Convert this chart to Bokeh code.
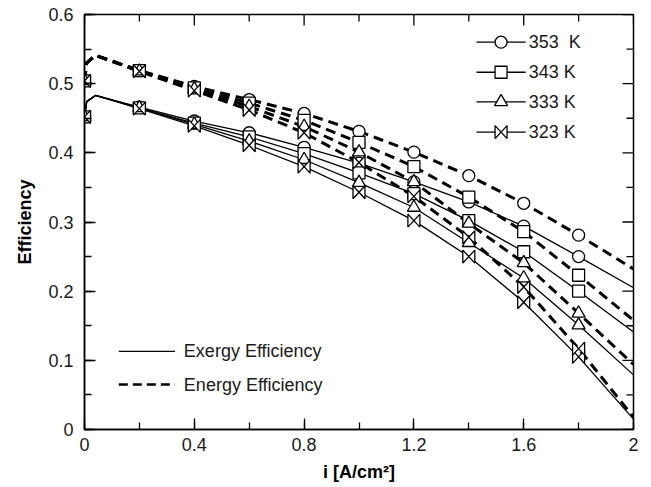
from bokeh.plotting import figure
from bokeh.models import Range1d, FixedTicker, CustomJSTickFormatter
from bokeh.core.properties import value
from bokeh.embed import file_html
from bokeh.resources import INLINE

# ---- data ---------------------------------------------------------------
current = [0.0, 0.2, 0.4, 0.6, 0.8, 1.0, 1.2, 1.4, 1.6, 1.8]   # A/cm2, marker points
rise_x = [0.008, 0.04]          # start-up rise just after i = 0
end_x = 2.0                     # curves continue to the edge of the range

temps = ["353", "343", "333", "323"]
legend_labels = ["353\u00a0\u00a0K", "343 K", "333 K", "323 K"]

exergy_353 = [0.452, 0.466, 0.446, 0.429, 0.408, 0.385, 0.358, 0.329, 0.294, 0.250]
exergy_343 = [0.452, 0.465, 0.443, 0.423, 0.399, 0.371, 0.341, 0.302, 0.257, 0.200]
exergy_333 = [0.452, 0.465, 0.441, 0.417, 0.390, 0.357, 0.321, 0.270, 0.219, 0.151]
exergy_323 = [0.452, 0.464, 0.439, 0.411, 0.380, 0.343, 0.302, 0.250, 0.184, 0.105]
exergy_rise = [0.474, 0.483]
exergy_end = [0.205, 0.141, 0.079, 0.015]

energy_353 = [0.504, 0.519, 0.496, 0.477, 0.457, 0.431, 0.401, 0.367, 0.327, 0.281]
energy_343 = [0.504, 0.519, 0.494, 0.472, 0.447, 0.415, 0.380, 0.336, 0.286, 0.223]
energy_333 = [0.504, 0.518, 0.492, 0.467, 0.438, 0.401, 0.358, 0.298, 0.241, 0.168]
energy_323 = [0.504, 0.518, 0.490, 0.462, 0.429, 0.386, 0.337, 0.278, 0.206, 0.117]
energy_rise = [0.530, 0.541]
energy_end = [0.232, 0.158, 0.094, 0.018]

x_major = [0.0, 0.4, 0.8, 1.2, 1.6, 2.0]
x_minor = [0.0, 0.2, 0.4, 0.6, 0.8, 1.0, 1.2, 1.4, 1.6, 1.8, 2.0]
y_major = [0.0, 0.1, 0.2, 0.3, 0.4, 0.5, 0.6]
y_minor = [0.0, 0.05, 0.1, 0.15, 0.2, 0.25, 0.3, 0.35, 0.4, 0.45, 0.5, 0.55, 0.6]

exergy = [exergy_353, exergy_343, exergy_333, exergy_323]
energy = [energy_353, energy_343, energy_333, energy_323]
markers = ["circle", "square", "triangle", "bowtie"]

# ---- layout -------------------------------------------------------------
W, H = 651, 487
BL, BR, BT, BB = 84, 18, 14, 58
FRAME_W, FRAME_H = W - BL - BR, H - BT - BB
X0, X1, Y0, Y1 = 0.0, 2.0, 0.0, 0.6
PX_X = (X1 - X0) / FRAME_W      # data units per pixel
PX_Y = (Y1 - Y0) / FRAME_H
TICK_MAJ, TICK_MIN = 11, 7      # inward tick lengths, px

FONT = "Liberation Sans"
TXT = "#1a1a1a"

p = figure(width=W, height=H, x_range=Range1d(X0, X1), y_range=Range1d(Y0, Y1),
           output_backend="svg", toolbar_location=None,
           min_border_left=BL, min_border_right=BR,
           min_border_top=BT, min_border_bottom=BB)
p.grid.visible = False
p.outline_line_color = "black"
p.outline_line_width = 1.5
p.background_fill_color = "white"
p.border_fill_color = "white"

fmt = CustomJSTickFormatter(code="return (Math.round(tick * 10) / 10).toString();")

for ax, ticker, standoff in ((p.xaxis[0], FixedTicker(ticks=x_major, minor_ticks=x_minor), 8),
                             (p.yaxis[0], FixedTicker(ticks=y_major, minor_ticks=y_minor), 11)):
    ax.ticker = ticker
    ax.formatter = fmt
    ax.axis_line_color = "black"
    ax.axis_line_width = 1.5
    ax.major_tick_line_color = "black"
    ax.minor_tick_line_color = "black"
    ax.major_tick_line_width = 1.3
    ax.minor_tick_line_width = 1.3
    ax.major_tick_in = TICK_MAJ
    ax.major_tick_out = 0
    ax.minor_tick_in = TICK_MIN
    ax.minor_tick_out = 0
    ax.major_label_text_font = FONT
    ax.major_label_text_color = TXT
    ax.major_label_text_font_size = "18px"
    ax.major_label_standoff = standoff
    ax.axis_label_text_font = FONT
    ax.axis_label_text_font_size = "18px"
    ax.axis_label_text_font_style = "bold"
    ax.axis_label_text_color = "black"

p.xaxis[0].axis_label = "i [A/cm²]"
p.xaxis[0].axis_label_standoff = 8
p.yaxis[0].axis_label = "Efficiency"
p.yaxis[0].axis_label_standoff = 10

# inward ticks along the top and right edges of the frame
top_x, top_y0, top_y1 = [], [], []
for t in x_minor:
    ln = TICK_MAJ if t in x_major else TICK_MIN
    top_x.append(t)
    top_y0.append(Y1)
    top_y1.append(Y1 - ln * PX_Y)
p.segment(top_x, top_y0, top_x, top_y1, line_color="black", line_width=1.3)

rt_y, rt_x0, rt_x1 = [], [], []
for t in y_minor:
    ln = TICK_MAJ if t in y_major else TICK_MIN
    rt_y.append(t)
    rt_x0.append(X1)
    rt_x1.append(X1 - ln * PX_X)
p.segment(rt_x0, rt_y, rt_x1, rt_y, line_color="black", line_width=1.3)

# ---- curves -------------------------------------------------------------
line_x = [current[0]] + rise_x + current[1:] + [end_x]
for k in range(4):
    ys = [exergy[k][0]] + exergy_rise + exergy[k][1:] + [exergy_end[k]]
    p.line(line_x, ys, line_color="black", line_width=1.3)
for k in range(4):
    ys = [energy[k][0]] + energy_rise + energy[k][1:] + [energy_end[k]]
    p.line(line_x, ys, line_color="black", line_width=3, line_dash="10 6")

MSIZE = 12
HW, HH = 6.0, 6.5   # bowtie half width / height in pixels


def bowtie_shapes(xs, ys):
    px, py = [], []
    for x, y in zip(xs, ys):
        dx, dy = HW * PX_X, HH * PX_Y
        px.append([x - dx, x + dx, x + dx, x - dx])
        py.append([y + dy, y - dy, y + dy, y - dy])
    return px, py


def draw_marker(kind, xs, ys):
    if kind == "bowtie":
        bx, by = bowtie_shapes(xs, ys)
        p.patches(bx, by, fill_color="white", line_color="black", line_width=1.3)
    else:
        size = MSIZE + (1 if kind == "triangle" else 0)
        p.scatter(xs, ys, marker=kind, size=size, fill_color="white",
                  line_color="black", line_width=1.3)


for k in range(4):
    draw_marker(markers[k], current, exergy[k])
    draw_marker(markers[k], current, energy[k])

# ---- legends (drawn inside the frame) ----------------------------------
leg_x0, leg_x1 = 1.428, 1.607
leg_xm = (leg_x0 + leg_x1) / 2
leg_tx = 1.618
leg_rows = [0.560, 0.5165, 0.4736, 0.430]
for k in range(4):
    yrow = leg_rows[k]
    p.line([leg_x0, leg_x1], [yrow, yrow], line_color="black", line_width=1.3)
    draw_marker(markers[k], [leg_xm], [yrow])
    p.text([leg_tx], [yrow], text=[legend_labels[k]], text_font=value(FONT),
           text_font_size="18px", text_color=TXT, text_baseline="middle",
           text_align="left")

eff_labels = ["Exergy Efficiency", "Energy Efficiency"]
eff_rows = [0.113, 0.065]
lx0, lx1, ltx = 0.125, 0.33, 0.362
p.line([lx0, lx1], [eff_rows[0]] * 2, line_color="black", line_width=1.3)
p.line([lx0, lx1], [eff_rows[1]] * 2, line_color="black", line_width=2.5,
       line_dash="9 5")
for lab, yrow in zip(eff_labels, eff_rows):
    p.text([ltx], [yrow], text=[lab], text_font=value(FONT),
           text_font_size="18px", text_color=TXT, text_baseline="middle",
           text_align="left")

open("out.html", "w").write(file_html(p, INLINE))
